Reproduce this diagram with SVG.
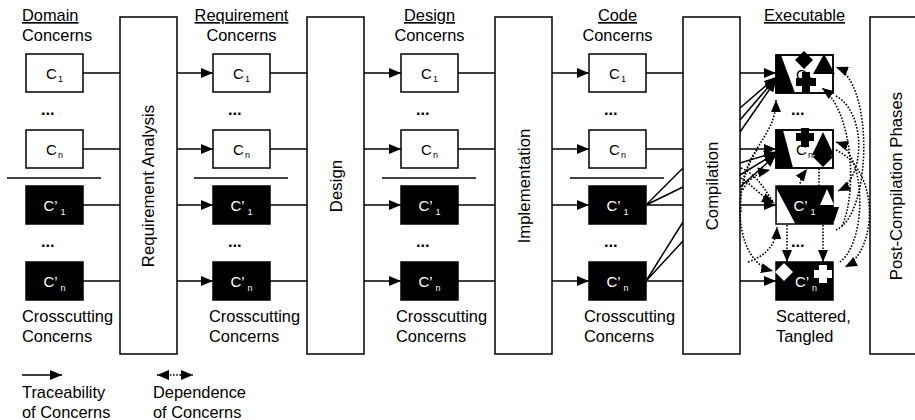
<svg xmlns="http://www.w3.org/2000/svg" width="915" height="420" viewBox="0 0 915 420">
<defs>
<marker id="ah" markerUnits="userSpaceOnUse" markerWidth="12" markerHeight="10" refX="12" refY="5" orient="auto-start-reverse" viewBox="0 0 12 10"><path d="M0,0 L12,5 L0,10 z" fill="#000"/></marker>
</defs>
<style>
text{font-family:"Liberation Sans",Arial,sans-serif;font-size:16.4px;fill:#000}
.box{fill:#fff;stroke:#000;stroke-width:1.5}
.bk{fill:#000;stroke:#000;stroke-width:1.5}
.ol{fill:none;stroke:#000;stroke-width:1.5}
.ln{stroke:#000;stroke-width:1.5;fill:none}
.ar{stroke:#000;stroke-width:1.5;fill:none;marker-end:url(#ah)}
.dt{stroke:#000;stroke-width:1.6;fill:none;stroke-dasharray:1.6 1.6;marker-end:url(#ah)}
.dp{stroke:#000;stroke-width:1.6;fill:none;stroke-dasharray:1.6 1.6}
.lbl{font-size:15px;text-anchor:middle}
.w{fill:#fff}
.sub{font-size:9px}
.dots{font-weight:bold}
.u{text-decoration:underline}
.mid{text-anchor:middle}
.rot{font-size:16.8px}
.wf{fill:#fff;stroke:none}
.kf{fill:#000;stroke:none}
</style>

<!-- headers -->
<g id="headers">
<text class="u" x="22" y="21">Domain</text><text x="22" y="41">Concerns</text>
<text class="u mid" x="241.5" y="21">Requirement</text><text class="mid" x="241.5" y="41">Concerns</text>
<text class="u mid" x="429.5" y="21">Design</text><text class="mid" x="429.5" y="41">Concerns</text>
<text class="u mid" x="617.5" y="21">Code</text><text class="mid" x="617.5" y="41">Concerns</text>
<text class="u mid" x="804.5" y="21">Executable</text>
</g>

<!-- footers -->
<g id="footers">
<text x="22" y="322">Crosscutting</text><text x="22" y="342">Concerns</text>
<text x="209" y="322">Crosscutting</text><text x="209" y="342">Concerns</text>
<text x="396" y="322">Crosscutting</text><text x="396" y="342">Concerns</text>
<text x="584" y="322">Crosscutting</text><text x="584" y="342">Concerns</text>
<text x="776" y="322">Scattered,</text><text x="776" y="342">Tangled</text>
</g>

<!-- separators and ellipses -->
<g id="separators">
<line class="ln" x1="7" y1="178" x2="101" y2="178"/>
<line class="ln" x1="194" y1="178" x2="288" y2="178"/>
<line class="ln" x1="382" y1="178" x2="476" y2="178"/>
<line class="ln" x1="570" y1="178" x2="664" y2="178"/>
<text class="dots" x="41" y="115">...</text><text class="dots" x="41" y="247">...</text>
<text class="dots" x="228" y="115">...</text><text class="dots" x="228" y="247">...</text>
<text class="dots" x="416" y="115">...</text><text class="dots" x="416" y="247">...</text>
<text class="dots" x="604" y="115">...</text><text class="dots" x="604" y="247">...</text>
<text class="dots" x="791" y="115">...</text><text class="dots" x="791" y="247">...</text>
</g>

<!-- phase boxes -->
<g id="req-analysis"><rect class="box" x="120" y="17" width="57" height="337"/><text class="mid rot" transform="translate(154,186) rotate(-90)">Requirement Analysis</text></g>
<g id="design"><rect class="box" x="307" y="17" width="57" height="337"/><text class="mid rot" transform="translate(341.5,186) rotate(-90)">Design</text></g>
<g id="implementation"><rect class="box" x="495" y="17" width="57" height="337"/><text class="mid rot" transform="translate(529.5,186) rotate(-90)">Implementation</text></g>
<g id="compilation"><rect class="box" x="683" y="17" width="57" height="337"/><text class="mid rot" transform="translate(717.5,186) rotate(-90)">Compilation</text></g>
<g id="post-compilation"><rect class="box" x="870" y="17" width="60" height="337"/><text class="mid rot" transform="translate(902,186) rotate(-90)">Post-Compilation Phases</text></g>

<!-- concern boxes -->
<g id="dom-c1"><rect class="box" x="26" y="54" width="57" height="38"/><text class="lbl" x="54.5" y="79">C<tspan class="sub" dx="1" dy="3">1</tspan></text></g>
<g id="dom-cn"><rect class="box" x="26" y="130" width="57" height="38"/><text class="lbl" x="54.5" y="155">C<tspan class="sub" dx="1" dy="3">n</tspan></text></g>
<g id="dom-cc1"><rect class="bk" x="26" y="186" width="57" height="38"/><text class="lbl w" x="54.5" y="211">C’<tspan class="sub" dx="3" dy="4">1</tspan></text></g>
<g id="dom-ccn"><rect class="bk" x="26" y="262" width="57" height="38"/><text class="lbl w" x="54.5" y="287">C’<tspan class="sub" dx="3" dy="4">n</tspan></text></g>

<g id="req-c1"><rect class="box" x="213" y="54" width="57" height="38"/><text class="lbl" x="241.5" y="79">C<tspan class="sub" dx="1" dy="3">1</tspan></text></g>
<g id="req-cn"><rect class="box" x="213" y="130" width="57" height="38"/><text class="lbl" x="241.5" y="155">C<tspan class="sub" dx="1" dy="3">n</tspan></text></g>
<g id="req-cc1"><rect class="bk" x="213" y="186" width="57" height="38"/><text class="lbl w" x="241.5" y="211">C’<tspan class="sub" dx="3" dy="4">1</tspan></text></g>
<g id="req-ccn"><rect class="bk" x="213" y="262" width="57" height="38"/><text class="lbl w" x="241.5" y="287">C’<tspan class="sub" dx="3" dy="4">n</tspan></text></g>

<g id="des-c1"><rect class="box" x="401" y="54" width="57" height="38"/><text class="lbl" x="429.5" y="79">C<tspan class="sub" dx="1" dy="3">1</tspan></text></g>
<g id="des-cn"><rect class="box" x="401" y="130" width="57" height="38"/><text class="lbl" x="429.5" y="155">C<tspan class="sub" dx="1" dy="3">n</tspan></text></g>
<g id="des-cc1"><rect class="bk" x="401" y="186" width="57" height="38"/><text class="lbl w" x="429.5" y="211">C’<tspan class="sub" dx="3" dy="4">1</tspan></text></g>
<g id="des-ccn"><rect class="bk" x="401" y="262" width="57" height="38"/><text class="lbl w" x="429.5" y="287">C’<tspan class="sub" dx="3" dy="4">n</tspan></text></g>

<g id="code-c1"><rect class="box" x="589" y="54" width="57" height="38"/><text class="lbl" x="617.5" y="79">C<tspan class="sub" dx="1" dy="3">1</tspan></text></g>
<g id="code-cn"><rect class="box" x="589" y="130" width="57" height="38"/><text class="lbl" x="617.5" y="155">C<tspan class="sub" dx="1" dy="3">n</tspan></text></g>
<g id="code-cc1"><rect class="bk" x="589" y="186" width="57" height="38"/><text class="lbl w" x="617.5" y="211">C’<tspan class="sub" dx="3" dy="4">1</tspan></text></g>
<g id="code-ccn"><rect class="bk" x="589" y="262" width="57" height="38"/><text class="lbl w" x="617.5" y="287">C’<tspan class="sub" dx="3" dy="4">n</tspan></text></g>

<!-- connectors -->
<g id="connectors">
<line class="ln" x1="83" y1="73" x2="120" y2="73"/><line class="ln" x1="83" y1="149" x2="120" y2="149"/><line class="ln" x1="83" y1="205" x2="120" y2="205"/><line class="ln" x1="83" y1="281" x2="120" y2="281"/>
<line class="ar" x1="177" y1="73" x2="213" y2="73"/><line class="ar" x1="177" y1="149" x2="213" y2="149"/><line class="ar" x1="177" y1="205" x2="213" y2="205"/><line class="ar" x1="177" y1="281" x2="213" y2="281"/>
<line class="ln" x1="270" y1="73" x2="307" y2="73"/><line class="ln" x1="270" y1="149" x2="307" y2="149"/><line class="ln" x1="270" y1="205" x2="307" y2="205"/><line class="ln" x1="270" y1="281" x2="307" y2="281"/>
<line class="ar" x1="364" y1="73" x2="401" y2="73"/><line class="ar" x1="364" y1="149" x2="401" y2="149"/><line class="ar" x1="364" y1="205" x2="401" y2="205"/><line class="ar" x1="364" y1="281" x2="401" y2="281"/>
<line class="ln" x1="458" y1="73" x2="495" y2="73"/><line class="ln" x1="458" y1="149" x2="495" y2="149"/><line class="ln" x1="458" y1="205" x2="495" y2="205"/><line class="ln" x1="458" y1="281" x2="495" y2="281"/>
<line class="ar" x1="552" y1="73" x2="589" y2="73"/><line class="ar" x1="552" y1="149" x2="589" y2="149"/><line class="ar" x1="552" y1="205" x2="589" y2="205"/><line class="ar" x1="552" y1="281" x2="589" y2="281"/>
<line class="ln" x1="646" y1="73" x2="683" y2="73"/><line class="ln" x1="646" y1="149" x2="683" y2="149"/>
<line class="ln" x1="646" y1="205" x2="683" y2="205"/><line class="ln" x1="646" y1="205" x2="683" y2="187"/><line class="ln" x1="646" y1="205" x2="683" y2="168"/>
<line class="ln" x1="646" y1="281" x2="683" y2="281"/><line class="ln" x1="646" y1="281" x2="683" y2="241"/><line class="ln" x1="646" y1="281" x2="683" y2="222"/>
<line class="ar" x1="740" y1="73" x2="776" y2="73"/><line class="ar" x1="740" y1="149" x2="776" y2="149"/><line class="ar" x1="740" y1="205" x2="776" y2="205"/><line class="ar" x1="740" y1="281" x2="776" y2="281"/>
<line class="ar" x1="740" y1="108" x2="776" y2="77"/><line class="ar" x1="740" y1="120" x2="776" y2="78"/><line class="ar" x1="740" y1="132" x2="776" y2="80"/>
<line class="ar" x1="740" y1="163" x2="776" y2="152"/><line class="ar" x1="740" y1="175" x2="776" y2="153"/><line class="ar" x1="740" y1="187" x2="776" y2="155"/>
</g>

<!-- executable boxes -->
<g id="exe-c1">
<rect class="box" x="776" y="55" width="57" height="38"/>
<text class="lbl" x="804.5" y="80">C<tspan class="sub" dx="1" dy="3">1</tspan></text>
<polygon class="kf" points="776,55 781,55 795,93 776,93"/>
<polygon class="kf" points="804,51 813,60 804,69 795,60"/>
<path class="kf" d="M802,72 h8 v6 h6 v8 h-6 v6 h-8 v-6 h-6 v-8 h6 z"/>
<rect class="ol" x="776" y="55" width="57" height="38"/>
<polygon class="kf" points="813,74 824,54 835,74"/>
</g>
<g id="exe-cn">
<rect class="box" x="776" y="130" width="57" height="38"/>
<text class="lbl" x="804.5" y="155">C<tspan class="sub" dx="1" dy="3">n</tspan></text>
<polygon class="kf" points="776,130 783,130 793,168 776,168"/>
<path class="kf" d="M801,128 h8 v5 h5 v8 h-5 v6 h-8 v-6 h-5 v-8 h5 z"/>
<rect class="ol" x="776" y="130" width="57" height="38"/>
<polygon class="kf" points="812,155 823,132 834,155"/>
<polygon class="kf" points="823,147 833,157 823,167 813,157"/>
</g>
<g id="exe-cc1">
<rect class="bk" x="776" y="186" width="57" height="38"/>
<polygon class="wf" points="776.8,189 795,223.2 776.8,223.2"/>
<polygon class="wf" points="820,205 827,189 834,205"/>
<polygon class="kf" points="826,207 839,207 834,222"/>
<text class="lbl w" x="804.5" y="211">C’<tspan class="sub" dx="3" dy="4">1</tspan></text>
</g>
<g id="exe-ccn">
<rect class="bk" x="776" y="262" width="57" height="38"/>
<polygon class="wf" points="784,263 793,272 784,281 775,272"/>
<path class="wf" d="M819,265 h8 v5 h5 v8 h-5 v5 h-8 v-5 h-5 v-8 h5 z"/>
<text class="lbl w" x="806" y="287">C’<tspan class="sub" dx="3" dy="4">n</tspan></text>
</g>

<!-- dependence connectors -->
<g id="dependences">
<path class="dt" d="M836,230 C872,215 874,82 836,67"/>
<path class="dt" d="M842,226 C858,190 852,110 822,88"/>
<path class="dt" d="M840,262 C868,240 866,152 836,142"/>
<path class="dt" d="M836,96 C866,112 866,178 838,191"/>
<path class="dt" d="M836,150 C880,170 878,250 845,267"/>
<path class="dt" d="M741,212 C737,150 776,142 776,100"/>
<path class="dt" d="M743,190 C748,178 760,172 770,170"/>
<path class="dt" d="M800,187 C800,178 804,173 807,169"/>
<path class="dp" d="M819,186 L819,168"/>
<path class="dt" d="M741,178 C752,185 762,197 774,203"/>
<path class="dp" d="M741,168 C758,175 766,192 774,203"/>
<path class="dt" d="M748,262 C765,256 776,246 777,227"/>
<path class="dt" d="M757,150 C730,190 735,262 773,271"/>
<path class="dt" d="M787,225 L787,262"/>
<path class="dt" d="M823,225 L823,262"/>
</g>

<!-- legend -->
<g id="legend">
<line class="ar" x1="22" y1="375" x2="62" y2="375"/>
<text x="22" y="398">Traceability</text><text x="22" y="418">of Concerns</text>
<line x1="157" y1="375" x2="193" y2="375" style="stroke:#000;stroke-width:1.6;stroke-dasharray:1.6 1.6;marker-start:url(#ah);marker-end:url(#ah)"/>
<text x="153" y="398">Dependence</text><text x="153" y="418">of Concerns</text>
</g>
</svg>
